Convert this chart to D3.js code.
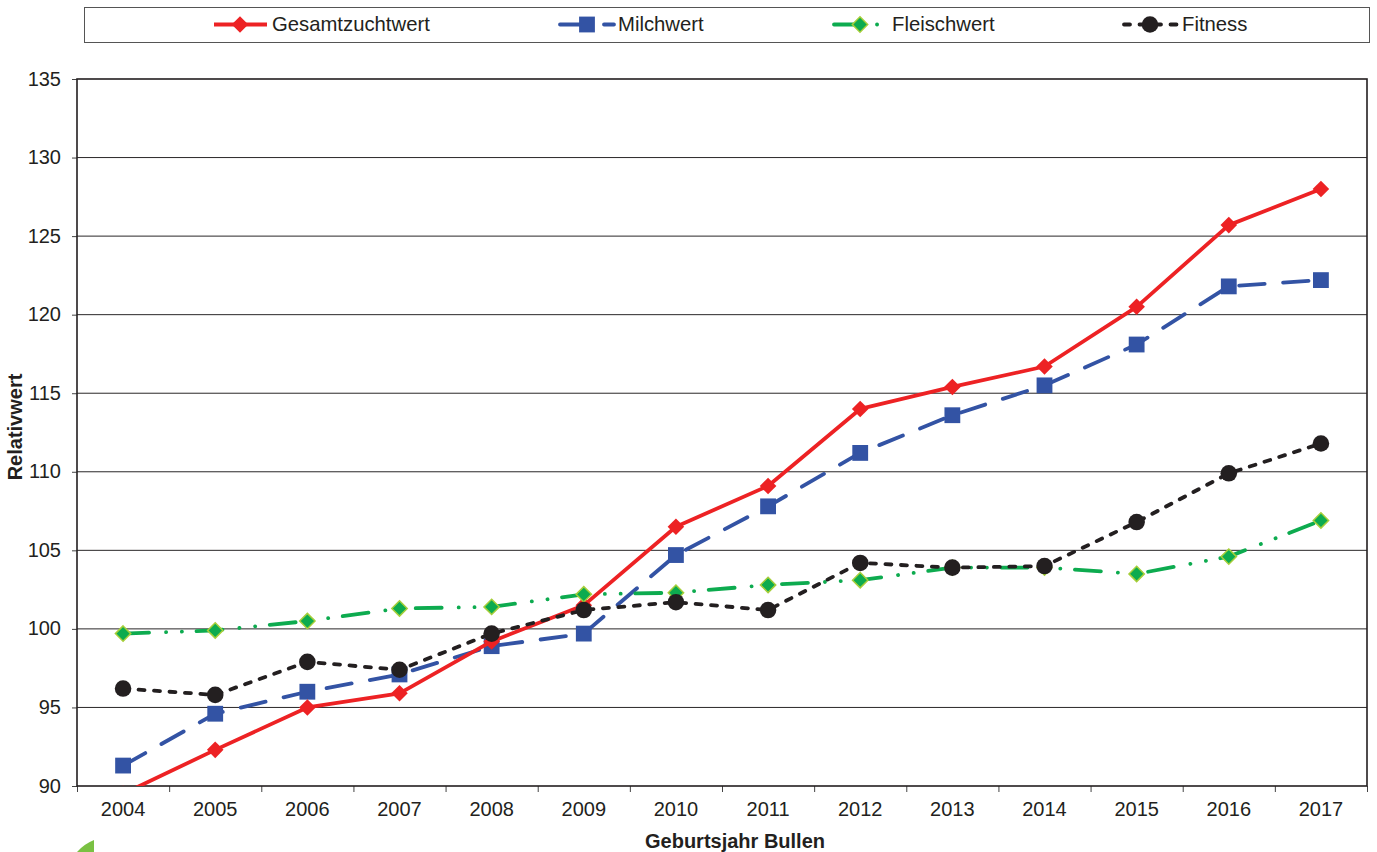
<!DOCTYPE html>
<html><head><meta charset="utf-8">
<script src="https://cdn.jsdelivr.net/npm/d3@7/dist/d3.min.js"></script>
<style>html,body{margin:0;padding:0;background:#fff}svg{display:block}text{font-family:"Liberation Sans",Arial,sans-serif;fill:#231f20}</style>
</head><body><svg id="c" width="1377" height="852"></svg>
<script>
const years=["2004","2005","2006","2007","2008","2009","2010","2011","2012","2013","2014","2015","2016","2017"];
const yTicks=[90,95,100,105,110,115,120,125,130,135];
const gesamt=[89.5,92.3,95,95.9,99.2,101.5,106.5,109.1,114,115.4,116.7,120.5,125.7,128];
const milch=[91.3,94.6,96,97.1,98.9,99.7,104.7,107.8,111.2,113.6,115.5,118.1,121.8,122.2];
const fleisch=[99.7,99.9,100.5,101.3,101.4,102.2,102.3,102.8,103.1,103.9,103.9,103.5,104.6,106.9];
const fitness=[96.2,95.8,97.9,97.4,99.7,101.2,101.7,101.2,104.2,103.9,104,106.8,109.9,111.8];
const names=["Gesamtzuchtwert","Milchwert","Fleischwert","Fitness"];
const seriesValues=[gesamt,milch,fleisch,fitness];

const L=77,R=1367,T=79,B=786;
const svg=d3.select("#c");
const x=d3.scaleBand().domain(years).range([L,R]);
const y=d3.scaleLinear().domain([90,135]).range([B,T]);
const styles=[
 {c:"#ed2224",dash:null,sym:d3.symbolDiamond2,size:175,mf:"#ed2224",ms:"#ed2224",msw:0,cap:"butt",lx:[214,267],mx:240,tx:272},
 {c:"#3353a4",dash:"25.5 18.5",sym:d3.symbolSquare,size:250,mf:"#3353a4",ms:"#3353a4",msw:0,cap:"round",lx:[560,614],mx:587,tx:618},
 {c:"#0dab4f",dash:"26 17 0.1 15.7 0.1 14.6",sym:d3.symbolDiamond2,size:150,mf:"#0dab4f",ms:"#a6ce39",msw:1.5,cap:"round",lx:[834,888],mx:860,tx:892},
 {c:"#231f20",dash:"6 9.5",sym:d3.symbolCircle,size:215,mf:"#231f20",ms:"#231f20",msw:0,cap:"round",lx:[1124,1178],mx:1150,tx:1182}
];

// decorative corner
svg.append("path").attr("d","M77 852 Q84 844 94 840 L94 852 Z").attr("fill","#7ac143");

// legend
svg.append("rect").attr("x",84.5).attr("y",7.5).attr("width",1285).attr("height",35).attr("fill","#fff").attr("stroke","#555").attr("stroke-width",1);

// grid
svg.append("g").selectAll("line").data(yTicks.filter(d=>d!==90&&d!==135)).join("line")
 .attr("x1",L).attr("x2",R).attr("y1",d=>y(d)).attr("y2",d=>y(d)).attr("stroke","#2a2728").attr("stroke-width",1);

// axes
const gy=svg.append("g").attr("transform",`translate(${L},0)`).call(d3.axisLeft(y).tickValues(yTicks).tickSize(5).tickPadding(4));
gy.select(".domain").remove();
gy.selectAll("line").attr("stroke","#444");
gy.selectAll("text").attr("font-size",20).attr("x",-16).attr("dy","0.3em");
const gx=svg.append("g").attr("transform",`translate(0,${B})`).call(d3.axisBottom(x).tickSize(0).tickPadding(16));
gx.select(".domain").remove();
gx.selectAll("text").attr("font-size",20);
gx.selectAll("line").remove();
svg.append("g").selectAll("line").data(d3.range(years.length+1)).join("line")
 .attr("x1",i=>L+i*x.step()+.5).attr("x2",i=>L+i*x.step()+.5).attr("y1",B).attr("y2",B+6).attr("stroke","#444");
svg.append("rect").attr("x",L).attr("y",T).attr("width",R-L).attr("height",B-T).attr("fill","none").attr("stroke","#231f20").attr("stroke-width",1.6);

// axis titles
svg.append("text").attr("x",735).attr("y",848).attr("text-anchor","middle").attr("font-size",20).attr("font-weight","bold").text("Geburtsjahr Bullen");
svg.append("text").attr("transform","translate(22,427) rotate(-90)").attr("text-anchor","middle").attr("font-size",20).attr("font-weight","bold").text("Relativwert");

// series
svg.append("clipPath").attr("id","pl").append("rect").attr("x",L).attr("y",T).attr("width",R-L).attr("height",B-T);
const plot=svg.append("g").attr("clip-path","url(#pl)");
const line=d3.line().x(d=>x(d[0])+x.bandwidth()/2).y(d=>y(d[1]));
const drawOrder=[1,0,2,3];
drawOrder.forEach(si=>{
 const s=styles[si],v=seriesValues[si];
 const pts=years.map((yr,i)=>[yr,v[i]]);
 const g=plot.append("g");
 g.append("path").attr("d",line(pts)).attr("fill","none").attr("stroke",s.c).attr("stroke-width",3.8)
   .attr("stroke-dasharray",s.dash).attr("stroke-linecap",s.cap).attr("stroke-linejoin","round");
 g.selectAll("path.m").data(pts).join("path").attr("class","m")
  .attr("d",d3.symbol().type(s.sym).size(s.size))
  .attr("transform",d=>`translate(${x(d[0])+x.bandwidth()/2},${y(d[1])})`)
  .attr("fill",s.mf).attr("stroke",s.ms).attr("stroke-width",s.msw);
});

// legend entries
styles.forEach((s,i)=>{
 const g=svg.append("g");
 g.append("line").attr("x1",s.lx[0]).attr("x2",s.lx[1]).attr("y1",24.5).attr("y2",24.5).attr("stroke",s.c).attr("stroke-width",3.8)
  .attr("stroke-dasharray",s.dash).attr("stroke-linecap",s.cap);
 g.append("path").attr("d",d3.symbol().type(s.sym).size(s.size)).attr("transform",`translate(${s.mx},24.5)`)
  .attr("fill",s.mf).attr("stroke",s.ms).attr("stroke-width",s.msw);
 g.append("text").attr("x",s.tx).attr("y",31).attr("font-size",20.3).text(names[i]);
});
</script></body></html>
